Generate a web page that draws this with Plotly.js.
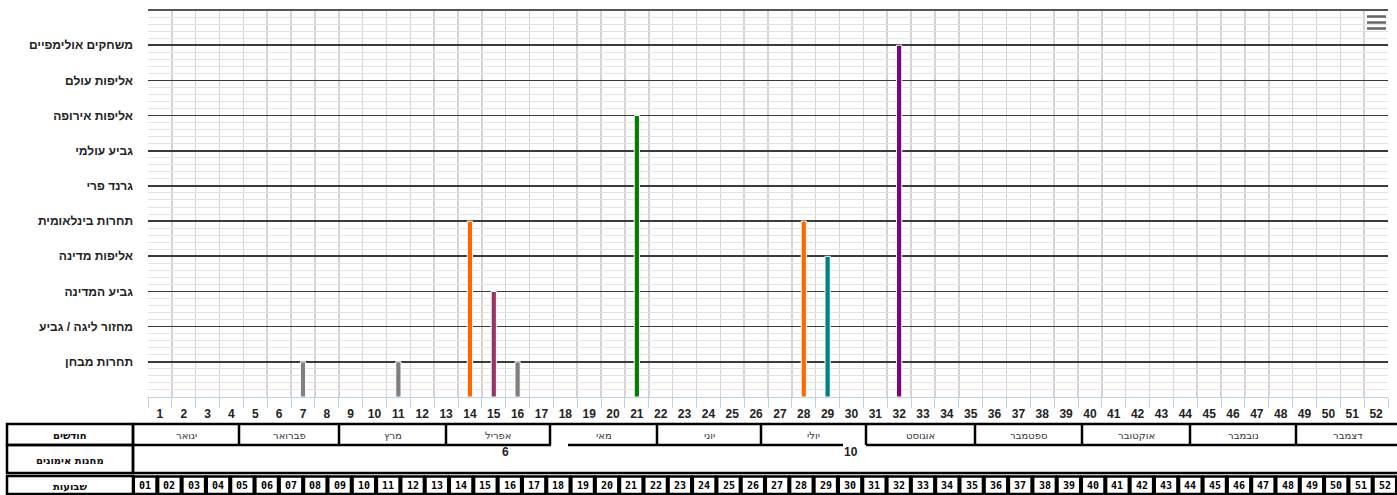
<!DOCTYPE html>
<html>
<head>
<meta charset="utf-8">
<script src="https://cdn.plot.ly/plotly-3.0.1.min.js"></script>
<style>
html,body{margin:0;padding:0;background:#fff;}
#chart{width:1397px;height:495px;}
</style>
</head>
<body>
<div id="chart"></div>
<script>
// ---- data ----
const categories = ['תחרות מבחן','מחזור ליגה / גביע','גביע המדינה','אליפות מדינה','תחרות בינלאומית','גרנד פרי','גביע עולמי','אליפות אירופה','אליפות עולם','משחקים אולימפיים'];
const categoryLevels = [1,2,3,4,5,6,7,8,9,10];
const weeks = [7, 11, 14, 15, 16, 21, 28, 29, 32];
const levels = [1, 1, 5, 3, 1, 8, 5, 4, 10];
const barColors = ['#808080','#808080','#FF6600','#993366','#808080','#008000','#FF6600','#008080','#800080'];
const weekNumbers = Array.from({length:52}, (_, i) => i + 1);
const weekLabels = weekNumbers.map(String);
const weekBoxLabels = weekNumbers.map(w => (w < 10 ? '0' : '') + w);
const monthNames = ['ינואר','פברואר','מרץ','אפריל','מאי','יוני','יולי','אוגוסט','ספטמבר','אוקטובר','נובמבר','דצמבר'];
const rowLabels = ['חודשים','מחנות אימונים','שבועות'];
const campWeeks = [15.5, 30];
const campCounts = [6, 10];

// ---- layout constants (pixels) ----
const L = 148, R = 1388, T = 10, B = 397;
const monthEdgesPx = [133, 239, 339, 446, 550, 657, 761, 866, 975, 1082, 1190, 1296, 1399];
const px2x = px => (px - L) / (R - L);
const py2y = py => (B - py) / (B - T);

const shapes = [];
const annotations = [];
function line(x0, y0, x1, y1, w, c) {
  shapes.push({type:'line', xref:'paper', yref:'paper', x0:px2x(x0), x1:px2x(x1), y0:py2y(y0), y1:py2y(y1),
    line:{color:c || '#000', width:w}});
}
function rect(x0, y0, x1, y1, w) {
  shapes.push({type:'rect', xref:'paper', yref:'paper', x0:px2x(x0), x1:px2x(x1), y0:py2y(y1), y1:py2y(y0),
    line:{color:'#000', width:w}, fillcolor:'rgba(0,0,0,0)'});
}
function text(t, px, py, size, bold, family, color) {
  annotations.push({text:t, xref:'paper', yref:'paper', x:px2x(px), y:py2y(py), xanchor:'center', yanchor:'middle',
    showarrow:false, font:{size:size, family:family || 'DejaVu Sans', color:color || '#000', weight: bold ? 'bold' : 'normal'}});
}

// top border of plot area
line(L, T, R, T, 2, '#555');

// label column
const rowsY = [[424, 445], [445, 473], [476, 494]];
rowsY.forEach((r, i) => {
  rect(7, r[0], 133, r[1], 2.5);
  text(rowLabels[i], 70, (r[0] + r[1]) / 2 + 1, 10, true, 'DejaVu Sans', '#111');
});
// months row
line(133, 424, 1399, 424, 2.5);
const gaps = [[551, 568], [843, 866]];
let cur = 133;
gaps.forEach(g => { line(cur, 445, g[0], 445, 2.5); cur = g[1]; });
line(cur, 445, 1399, 445, 2.5);
monthNames.forEach((m, i) => {
  line(monthEdgesPx[i], 424, monthEdgesPx[i], 445, 2.5);
  text(m, (monthEdgesPx[i] + monthEdgesPx[i + 1]) / 2, 435, 10, false, 'DejaVu Sans', '#333');
});
// camps row
line(133, 445, 133, 473, 2.5);
line(133, 473, 1399, 473, 2.5);
campWeeks.forEach((w, i) => {
  annotations.push({text:String(campCounts[i]), xref:'x', yref:'paper', x:w, y:py2y(452), xanchor:'center', yanchor:'middle',
    showarrow:false, font:{size:12, family:'Liberation Sans', color:'#222', weight:'bold'}});
});
// weeks row
const bw = (1397 - 133) / 52;
weekBoxLabels.forEach((t, i) => {
  const x0 = 133 + i * bw;
  rect(x0 + 0.8, 476.5, x0 + bw - 0.8, 494, 2.5);
  text(t, x0 + bw / 2, 485.5, 10, true, 'DejaVu Sans Mono', '#000');
});
// menu icon
[16.5, 22.5, 28.5].forEach(y => line(1367, y, 1386, y, 2.5, '#666'));

const trace = {
  type:'bar', x:weeks, y:levels, width:0.22,
  marker:{color:barColors, line:{color:'#ffffff', width:1}},
  hoverinfo:'x+y', showlegend:false
};

const layout = {
  width:1397, height:495,
  margin:{l:L, r:1397 - R, t:T, b:495 - B, pad:0},
  paper_bgcolor:'#fff', plot_bgcolor:'#fff',
  font:{family:'Liberation Sans, Arial, sans-serif'},
  xaxis:{
    range:[0.5, 52.5], tickmode:'array', tickvals:weekNumbers, ticktext:weekLabels,
    ticks:'', showgrid:false, zeroline:false,
    showline:true, linecolor:'#C0D0E0', linewidth:1,
    tickfont:{size:12, color:'#222', weight:'bold'}, ticklabelstandoff:6,
    minor:{tickmode:'array', tickvals:weekNumbers.map(w => w - 0.5).concat([52.5]),
      showgrid:true, gridcolor:'#d4d4d4', gridwidth:1.5, ticks:'outside', ticklen:10, tickcolor:'#C0D0E0', tickwidth:1},
    fixedrange:true
  },
  yaxis:{
    range:[0, 11], tickmode:'array', tickvals:categoryLevels.concat([11]), ticktext:categories.concat(['']),
    ticks:'', showgrid:true, gridcolor:'#3a3a3a', gridwidth:1.6, zeroline:false, showline:false,
    tickfont:{size:12, color:'#222', weight:'bold'}, ticklabelstandoff:14,
    minor:{dtick:0.2, tick0:0, showgrid:true, gridcolor:'#e3e3e3', gridwidth:1},
    fixedrange:true
  },
  shapes:shapes, annotations:annotations,
  bargap:0
};

Plotly.newPlot('chart', [trace], layout, {displayModeBar:false, staticPlot:true});
</script>
</body>
</html>
